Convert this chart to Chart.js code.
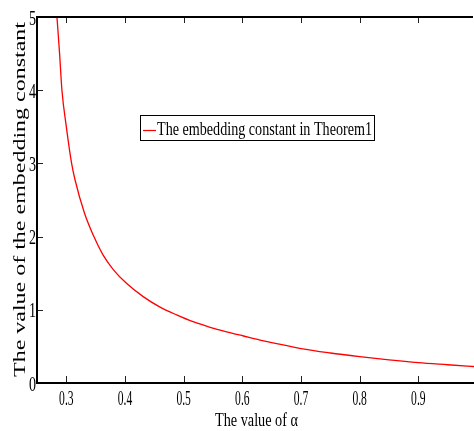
<!DOCTYPE html>
<html>
<head>
<meta charset="utf-8">
<script src="https://cdn.jsdelivr.net/npm/chart.js@4/dist/chart.umd.min.js"></script>
<style>
  html, body { margin: 0; padding: 0; background: #fff; overflow: hidden; }
  #wrap { width: 478px; height: 431px; position: relative; }
</style>
</head>
<body>
<div id="wrap"><canvas id="myChart"></canvas></div>
<script>
// alpha values and the embedding constant
const alpha = [0.284, 0.2885, 0.2925, 0.300, 0.309, 0.315, 0.331, 0.347, 0.3625, 0.380,
               0.4025, 0.431, 0.459, 0.488, 0.516, 0.545, 0.573, 0.602, 0.630, 0.650,
               0.700, 0.750, 0.800, 0.850, 0.900, 0.950, 1.000];
const embeddingConstant = [5.00, 4.50, 4.00, 3.50, 3.00, 2.77, 2.32, 2.00, 1.75, 1.55,
                           1.362, 1.18, 1.04, 0.93, 0.837, 0.761, 0.70, 0.642, 0.587, 0.553,
                           0.47, 0.41, 0.36, 0.315, 0.277, 0.249, 0.222];
const xTicks = [0.3, 0.4, 0.5, 0.6, 0.7, 0.8, 0.9];
const yTicks = [0, 1, 2, 3, 4, 5];
const xTitle = 'The value of \u03b1';
const yTitle = 'The value of the embedding constant';
const seriesLabel = 'The embedding constant in Theorem1';

const SERIF = '"Liberation Serif", "DejaVu Serif", serif';

// draw text squeezed or stretched horizontally, optionally rotated
function drawText(ctx, text, x, y, size, opts) {
  ctx.save();
  ctx.translate(x, y);
  if (opts.angle) ctx.rotate(opts.angle);
  ctx.font = size + 'px ' + SERIF;
  let sx = opts.sx || 1;
  if (opts.width) sx = opts.width / ctx.measureText(text).width;
  ctx.scale(sx, 1);
  ctx.textAlign = opts.align || 'left';
  ctx.textBaseline = opts.baseline || 'alphabetic';
  ctx.fillStyle = '#000';
  ctx.fillText(text, 0, 0);
  ctx.restore();
}

const axesPlugin = {
  id: 'matlabAxes',
  afterDraw(chart) {
    const ctx = chart.ctx;
    const x = chart.scales.x, y = chart.scales.y;
    const area = chart.chartArea;

    ctx.save();
    // top border
    ctx.strokeStyle = '#000';
    ctx.lineWidth = 2;
    ctx.beginPath();
    ctx.moveTo(area.left, area.top);
    ctx.lineTo(473, area.top);
    ctx.stroke();

    // inward tick marks
    ctx.lineWidth = 1;
    ctx.strokeStyle = '#222';
    ctx.beginPath();
    xTicks.forEach(v => {
      const px = Math.round(x.getPixelForValue(v)) + 0.5;
      ctx.moveTo(px, area.bottom - 1); ctx.lineTo(px, area.bottom - 7);
      ctx.moveTo(px, area.top + 1); ctx.lineTo(px, area.top + 6);
    });
    yTicks.slice(1, -1).forEach(v => {
      const py = Math.round(y.getPixelForValue(v)) + 0.5;
      ctx.moveTo(area.left + 1, py); ctx.lineTo(area.left + 6, py);
    });
    ctx.stroke();
    ctx.restore();

    // tick labels
    xTicks.forEach(v => {
      drawText(ctx, v.toFixed(1), x.getPixelForValue(v), 405, 20, { sx: 0.58, align: 'center' });
    });
    yTicks.forEach(v => {
      drawText(ctx, String(v), 36, y.getPixelForValue(v) + 7.5, 22, { sx: 0.64, align: 'right' });
    });

    // axis titles
    drawText(ctx, xTitle, 215, 426, 19, { width: 83 });
    drawText(ctx, yTitle, 25, 377, 16, { width: 355, angle: -Math.PI / 2 });

    // legend box
    const ds = chart.data.datasets[0];
    ctx.save();
    ctx.fillStyle = '#fff';
    ctx.fillRect(140.5, 115.5, 234, 25);
    ctx.strokeStyle = '#000';
    ctx.lineWidth = 1;
    ctx.strokeRect(140.5, 115.5, 234, 25);
    ctx.strokeStyle = ds.borderColor;
    ctx.lineWidth = 1.2;
    ctx.beginPath();
    ctx.moveTo(143, 130.5); ctx.lineTo(156, 130.5);
    ctx.stroke();
    ctx.restore();
    drawText(ctx, ds.label, 157, 135, 18, { width: 215 });
  }
};

new Chart(document.getElementById('myChart'), {
  type: 'line',
  data: {
    datasets: [{
      label: seriesLabel,
      data: alpha.map((a, i) => ({ x: a, y: embeddingConstant[i] })),
      borderColor: 'rgb(255, 0, 0)',
      borderWidth: 1.3,
      pointRadius: 0,
      cubicInterpolationMode: 'monotone',
      fill: false
    }]
  },
  options: {
    responsive: true,
    maintainAspectRatio: false,
    animation: false,
    layout: { padding: { left: 37, top: 17, right: 1, bottom: 48 } },
    plugins: { legend: { display: false }, tooltip: { enabled: false } },
    scales: {
      x: {
        type: 'linear',
        min: 0.25,
        max: 1.0,
        grid: { display: false, drawTicks: false },
        border: { display: true, color: '#000', width: 2 },
        ticks: { display: false }
      },
      y: {
        min: 0,
        max: 5,
        grid: { display: false, drawTicks: false },
        border: { display: true, color: '#000', width: 2 },
        ticks: { display: false }
      }
    }
  },
  plugins: [axesPlugin]
});
</script>
</body>
</html>
